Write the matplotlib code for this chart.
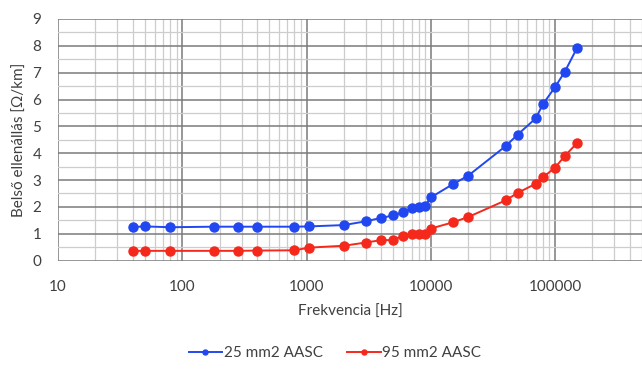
import matplotlib
matplotlib.use("Agg")
import matplotlib.pyplot as plt
from matplotlib.ticker import LogLocator, MultipleLocator, FixedLocator

plt.rcParams['font.family'] = ['Lato', 'DejaVu Sans']

# Data
freq = [40, 50, 80, 180, 280, 400, 800, 1050, 2000, 3000, 4000, 5000, 6000,
        7000, 8000, 9000, 10000, 15000, 20000, 40000, 50000, 70000, 80000,
        100000, 120000, 150000]
r_25 = [1.25, 1.27, 1.24, 1.26, 1.26, 1.26, 1.26, 1.27, 1.32, 1.46, 1.59, 1.68,
        1.80, 1.95, 2.00, 2.02, 2.35, 2.84, 3.16, 4.26, 4.69, 5.30, 5.83,
        6.46, 7.04, 7.91]
r_95 = [0.36, 0.36, 0.36, 0.36, 0.36, 0.37, 0.38, 0.48, 0.55, 0.67, 0.76, 0.76,
        0.93, 0.97, 0.97, 0.98, 1.19, 1.42, 1.62, 2.24, 2.52, 2.86, 3.10,
        3.46, 3.90, 4.37]
labels = ['25 mm2 AASC', '95 mm2 AASC']
colors = ['#2147f0', '#f5281c']

fig = plt.figure(figsize=(6.42, 3.69), dpi=100)
ax = fig.add_axes([58 / 642, 1 - 260.5 / 369, 1 - 58 / 642, (260.5 - 19) / 369])

for y, lab, c in zip([r_25, r_95], labels, colors):
    ax.plot(freq, y, color=c, lw=1.4, marker='o', ms=6.5, label=lab, zorder=3)

ax.set_xscale('log')
ax.set_xlim(10, 10 ** 5.70)
ax.set_ylim(0, 9)
ax.xaxis.set_major_locator(FixedLocator([10, 100, 1000, 10000, 100000]))
ax.xaxis.set_minor_locator(LogLocator(base=10, subs=range(2, 10), numticks=20))
ax.xaxis.set_major_formatter(matplotlib.ticker.FuncFormatter(lambda v, p: f"{int(v)}"))
ax.xaxis.set_minor_formatter(matplotlib.ticker.NullFormatter())
ax.yaxis.set_major_locator(MultipleLocator(1))
ax.yaxis.set_minor_locator(MultipleLocator(0.5))

ax.grid(which='major', color='#7a7a7a', lw=1.1)
ax.grid(which='minor', color='#cdcdcd', lw=0.9)
ax.set_axisbelow(True)
for s in ax.spines.values():
    s.set_visible(False)
ax.tick_params(which='both', length=0, labelsize=11, colors='#404040')
ax.tick_params(axis='x', pad=14)
ax.tick_params(axis='y', pad=12)

ax.set_xlabel('Frekvencia [Hz]', fontsize=11, color='#404040', labelpad=8)
ax.set_ylabel('Belső ellenállás [Ω/km]', fontsize=11, color='#404040', labelpad=4)

fig.legend(loc='center', bbox_to_anchor=(335 / 642, 1 - 353 / 369), ncol=2,
           frameon=False, fontsize=11, handlelength=2.2, markerscale=0.55,
           columnspacing=1.6, handletextpad=0.1, labelcolor='#404040')

fig.savefig('out.png', dpi=100)
